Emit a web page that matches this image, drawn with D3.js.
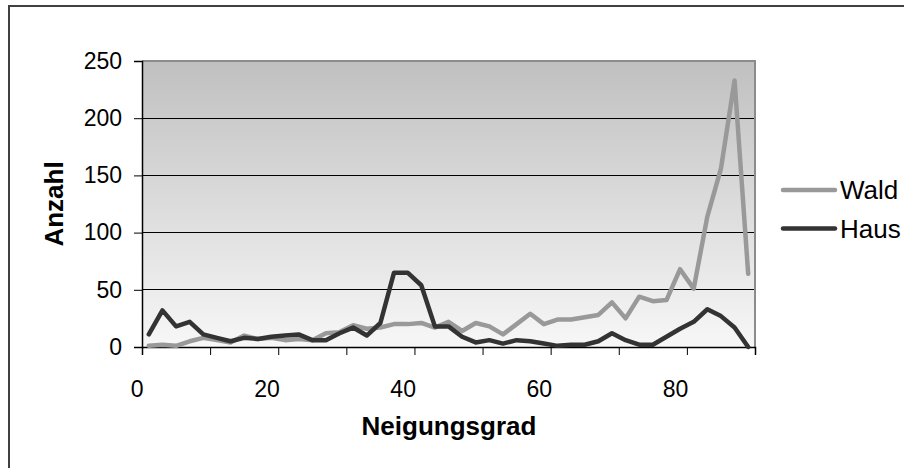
<!DOCTYPE html>
<html><head><meta charset="utf-8">
<script src="https://d3js.org/d3.v7.min.js"></script>
<style>html,body{margin:0;padding:0;background:#fff;}svg{display:block;}</style>
</head><body>
<script>
const angles = [1,3,5,7,9,11,13,15,17,19,21,23,25,27,29,31,33,35,37,39,41,43,45,47,49,51,53,55,57,59,61,63,65,67,69,71,73,75,77,79,81,83,85,87,89];
const wald = [1,2,1,5,8,6,4,10,7,8,6,7,6,12,13,19,16,17,20,20,21,17,22,14,21,18,11,20,29,20,24,24,26,28,39,25,44,40,41,68,51,114,156,233,64];
const haus = [11,32,18,22,11,8,5,8,7,9,10,11,6,6,12,17,10,21,65,65,54,18,18,9,4,6,3,6,5,3,1,2,2,5,12,6,2,2,9,16,22,33,27,17,0];
const seriesNames = ["Wald","Haus"];
const xTicks = [0,10,20,30,40,50,60,70,80,90];
const xLabels = [0,20,40,60,80];
const yTicks = [0,50,100,150,200,250];
const colors = {Wald:"#999999", Haus:"#333333"};

const W=904,H=468;
const svg=d3.select("body").append("svg").attr("width",W).attr("height",H);
const font="'Liberation Sans', Arial, sans-serif";

// outer border
svg.append("rect").attr("x",9).attr("y",6).attr("width",W).attr("height",H)
  .attr("fill","#fff").attr("stroke","#404040").attr("stroke-width",2);

const L=142,R=755,T=61,B=347;
const x=d3.scaleLinear().domain([0,90]).range([L,R]);
const y=d3.scaleLinear().domain([0,250]).range([B,T]);

const defs=svg.append("defs");
const g=defs.append("linearGradient").attr("id","bg").attr("x1",0).attr("y1",0).attr("x2",0).attr("y2",1);
g.append("stop").attr("offset","0%").attr("stop-color","#c0c0c0");
g.append("stop").attr("offset","100%").attr("stop-color","#f7f7f7");
svg.append("rect").attr("x",L).attr("y",T).attr("width",R-L).attr("height",B-T).attr("fill","url(#bg)");

// gridlines
svg.append("g").selectAll("line").data(yTicks.filter(d=>d>0)).join("line")
  .attr("x1",L).attr("x2",R).attr("y1",d=>y(d)).attr("y2",d=>y(d))
  .attr("stroke","#000").attr("stroke-width",1).attr("shape-rendering","crispEdges");

// plot border top/right
svg.append("path").attr("d",`M${L},${T}H${R}V${B}`).attr("fill","none").attr("stroke","#8c8c8c").attr("stroke-width",2);

// axes
const yAxis=d3.axisLeft(y).tickValues(yTicks).tickSize(8).tickPadding(12).tickFormat(d3.format("d"));
const ya=svg.append("g").attr("transform",`translate(${L},0)`).call(yAxis);
ya.select(".domain").attr("stroke","#000").attr("stroke-width",1.5);
ya.selectAll(".tick line").attr("stroke","#000");
ya.selectAll("text").attr("font-family",font).attr("font-size",23).attr("fill","#000");

const xAxis=d3.axisBottom(x).tickValues(xTicks).tickSize(8).tickFormat(d=>xLabels.includes(d)?d:"");
const xa=svg.append("g").attr("transform",`translate(0,${B})`).call(xAxis);
xa.select(".domain").attr("stroke","#000").attr("stroke-width",1.5);
xa.selectAll(".tick line").attr("stroke","#000");
xa.selectAll("text").attr("font-family",font).attr("font-size",23).attr("fill","#000")
  .attr("text-anchor","end").attr("dx",1).attr("y",0).attr("dy",0)
  .attr("transform","translate(0,50)");

// lines
const data={Wald:wald,Haus:haus};
const line=d3.line().x((d,i)=>x(angles[i])).y(d=>y(d));
seriesNames.forEach(n=>{
  svg.append("path").datum(data[n]).attr("d",line).attr("fill","none")
    .attr("stroke",colors[n]).attr("stroke-width",4.5).attr("stroke-linejoin","round").attr("stroke-linecap","round");
});

// legend
const lg=svg.append("g");
seriesNames.forEach((n,i)=>{
  const yy=190+i*38.5;
  lg.append("line").attr("x1",783).attr("x2",835).attr("y1",yy).attr("y2",yy)
    .attr("stroke",colors[n]).attr("stroke-width",4.5).attr("stroke-linecap","round");
  lg.append("text").attr("x",840).attr("y",yy).attr("dy","0.36em").text(n)
    .attr("font-family",font).attr("font-size",26).attr("fill","#000");
});

// axis titles
svg.append("text").attr("x",449).attr("y",435).attr("text-anchor","middle").text("Neigungsgrad")
  .attr("font-family",font).attr("font-size",26).attr("font-weight","bold");
svg.append("text").attr("transform","translate(63,204) rotate(-90)").attr("text-anchor","middle").text("Anzahl")
  .attr("font-family",font).attr("font-size",26).attr("font-weight","bold");
</script>
</body></html>
